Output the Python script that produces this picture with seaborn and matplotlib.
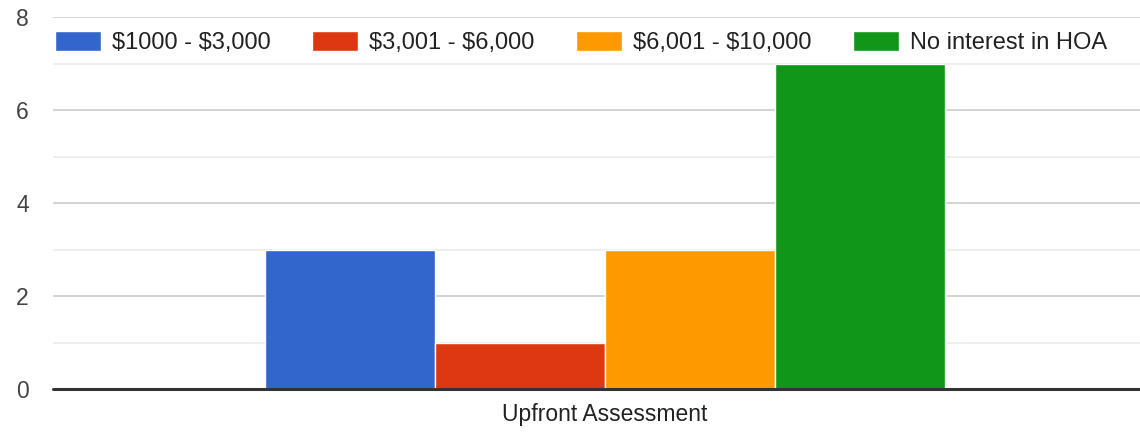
import pandas as pd
import seaborn as sns
import matplotlib.pyplot as plt
from matplotlib.ticker import MultipleLocator

categories = ["Upfront Assessment"]
ranges = ["$1000 - $3,000", "$3,001 - $6,000", "$6,001 - $10,000", "No interest in HOA"]
counts = [3, 1, 3, 7]
colors = ["#3366cc", "#dc3912", "#ff9900", "#109618"]

df = pd.DataFrame({
    "question": categories * len(ranges),
    "range": ranges,
    "count": counts,
})

sns.set_theme(style="white")
plt.rcParams["font.family"] = ["Liberation Sans", "DejaVu Sans"]
plt.rcParams["text.parse_math"] = False

fig = plt.figure(figsize=(11.4, 4.33), dpi=100)
# plot area runs a little past the right edge, like the original
ax = fig.add_axes([0.0465, 0.1016, 0.968, 0.8591])

sns.barplot(
    data=df,
    x="question",
    y="count",
    hue="range",
    palette=colors,
    width=0.616,
    edgecolor="white",
    linewidth=1,
    saturation=1,
    ax=ax,
)

ax.set_xlim(-0.5, 0.5)
ax.set_ylim(0, 8)
ax.yaxis.set_major_locator(MultipleLocator(2))
ax.yaxis.set_minor_locator(MultipleLocator(1))
ax.grid(axis="y", which="major", color="#cccccc", linewidth=1.2)
ax.grid(axis="y", which="minor", color="#ebebeb", linewidth=1.2)
ax.set_axisbelow(True)
ax.axhline(0, color="#333333", linewidth=2.2, zorder=5, clip_on=False)
for s in ax.spines.values():
    s.set_visible(False)

ax.set_xlabel("")
ax.set_ylabel("")
ax.tick_params(axis="both", length=0, labelsize=16.5, colors="#444444")
ax.tick_params(axis="y", pad=22)
ax.tick_params(axis="x", pad=10)
for lbl in ax.get_yticklabels():
    lbl.set_horizontalalignment("center")
for lbl in ax.get_xticklabels():
    lbl.set_color("#222222")

ax.legend(
    loc="upper left",
    bbox_to_anchor=(0.002, 0.962),
    ncol=4,
    frameon=False,
    fontsize=17,
    handlelength=1.95,
    handleheight=0.93,
    handletextpad=0.47,
    columnspacing=1.74,
    borderaxespad=0,
    borderpad=0,
    labelcolor="#222222",
)

fig.savefig("out.png", dpi=100)
